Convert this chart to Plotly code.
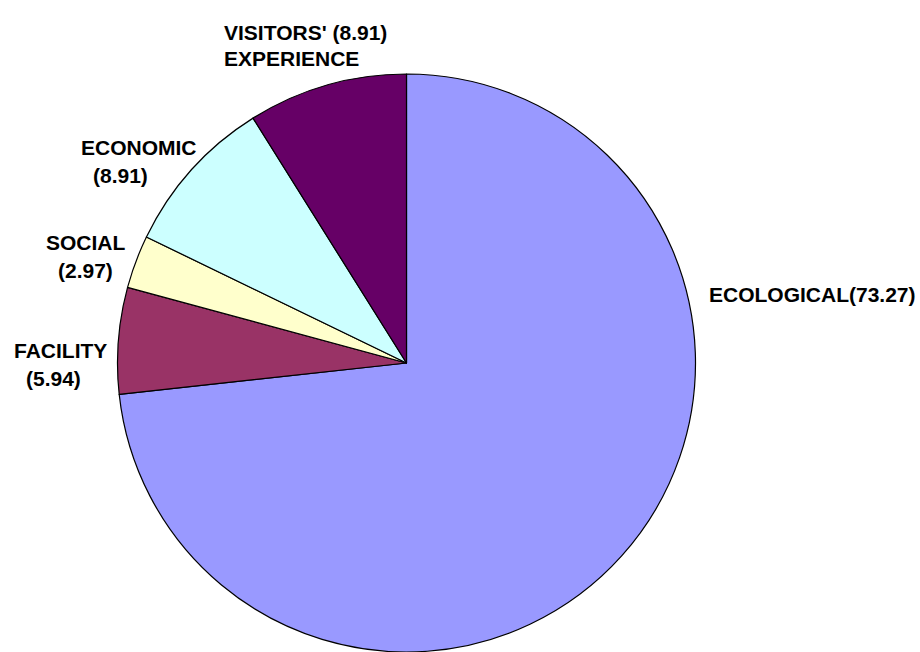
import plotly.graph_objects as go

# Share of indicators by category (%)
categories = ["ECOLOGICAL", "FACILITY", "SOCIAL", "ECONOMIC", "VISITORS' EXPERIENCE"]
values = [73.27, 5.94, 2.97, 8.91, 8.91]
colors = ["#9999FF", "#993366", "#FFFFCC", "#CCFFFF", "#660066"]

W, H = 920, 652

fig = go.Figure(
    go.Pie(
        labels=categories,
        values=values,
        sort=False,
        direction="clockwise",
        rotation=0,
        marker=dict(colors=colors, line=dict(color="black", width=1.2)),
        textinfo="none",
        hoverinfo="label+value",
        showlegend=False,
        domain=dict(x=[117.5 / W, 695.5 / W], y=[0, 1 - 74 / H]),
    )
)


def fmt(v):
    return f"{v:.2f}"


# Label lines per slice: (text, left x px, centre y px)
label_lines = [
    [(f"{categories[0]}({fmt(values[0])})", 708, 295)],
    [(categories[1], 13, 350), (f"({fmt(values[1])})", 25, 378)],
    [(categories[2], 45, 243), (f"({fmt(values[2])})", 57, 271)],
    [(categories[3], 80, 147), (f"({fmt(values[3])})", 92, 175)],
    [
        (f"{categories[4].split()[0]} ({fmt(values[4])})", 223, 32),
        (categories[4].split()[1], 223, 58),
    ],
]

for lines in label_lines:
    for text, px, py in lines:
        fig.add_annotation(
            text=text,
            x=px / W,
            y=1 - py / H,
            xref="paper",
            yref="paper",
            xanchor="left",
            yanchor="middle",
            showarrow=False,
            borderpad=0,
            font=dict(family="Liberation Sans, Arial, sans-serif", size=21,
                      color="black", weight="bold"),
        )

fig.update_layout(
    width=W,
    height=H,
    margin=dict(l=0, r=0, t=0, b=0),
    paper_bgcolor="white",
    plot_bgcolor="white",
)

fig.write_html("out.html")
